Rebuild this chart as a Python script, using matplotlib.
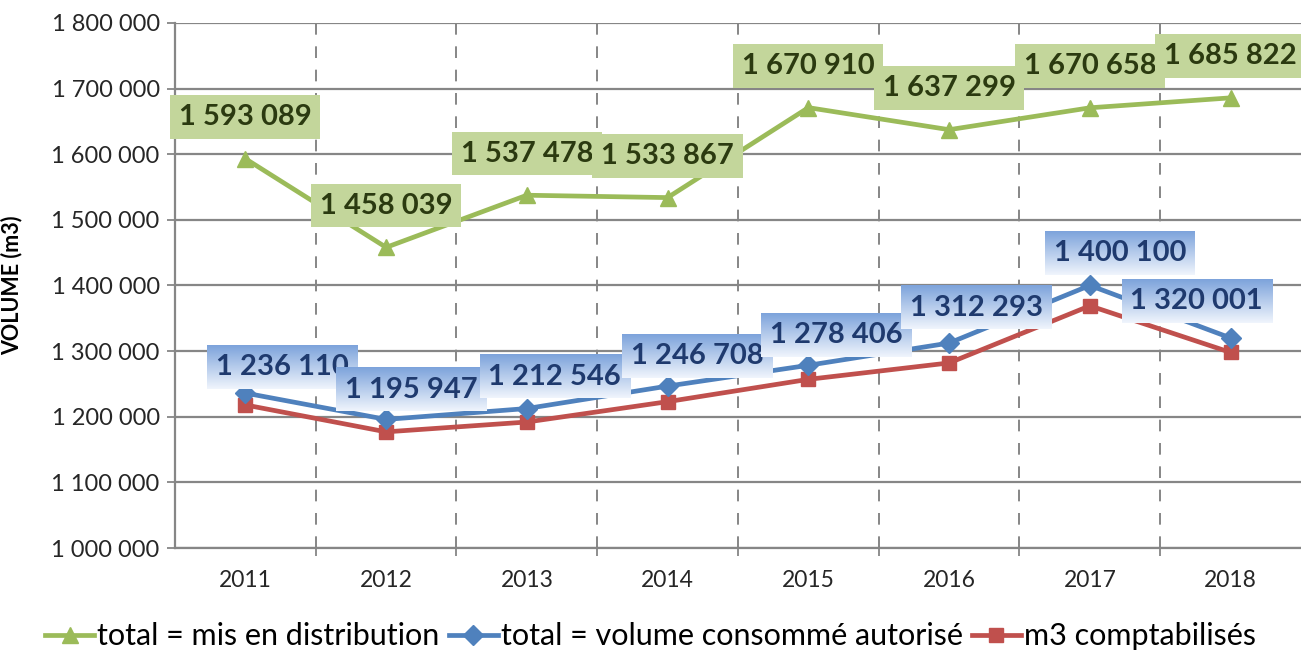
import numpy as np
import matplotlib
matplotlib.use("Agg")
import matplotlib.pyplot as plt
from matplotlib.lines import Line2D

plt.rcParams['font.family'] = ['Lato', 'DejaVu Sans']

years = ["2011", "2012", "2013", "2014", "2015", "2016", "2017", "2018"]
distribue = [1593089, 1458039, 1537478, 1533867, 1670910, 1637299, 1670658, 1685822]
consomme = [1236110, 1195947, 1212546, 1246708, 1278406, 1312293, 1400100, 1320001]
comptabilise = [1218000, 1177000, 1192000, 1223000, 1257000, 1282000, 1369000, 1298000]

# label offsets for the blue series (points), as placed in the source chart
blue_offsets = [(26.5, 18.5), (18, 21.5), (20, 23), (21.5, 21.5),
                (20, 21.5), (19.5, 25.5), (22, 23), (-24.5, 26.5)]

def fmt(v):
    return f"{v:,}".replace(",", " ")

green = "#9bbb59"
blue = "#4f81bd"
red = "#c0504d"
grid_col = "#868686"

fig = plt.figure(figsize=(13.01, 6.54), dpi=100)
ax = fig.add_axes([0.1345, 0.162, 0.8655, 0.803])

x = np.arange(len(years))
ax.plot(x, distribue, color=green, lw=3.4, marker="^", ms=12, zorder=3)
ax.plot(x, consomme, color=blue, lw=3.4, marker="D", ms=10, zorder=4)
ax.plot(x, comptabilise, color=red, lw=3.4, marker="s", ms=9.5, zorder=3)

ax.set_xlim(-0.5, len(years) - 0.5)
ax.set_ylim(1000000, 1800000)
yt = range(1000000, 1800001, 100000)
ax.set_yticks(yt)
ax.set_yticklabels([fmt(v) for v in yt], fontsize=17, color="#262626")
ax.set_xticks(x)
ax.set_xticklabels(years, fontsize=16.5, color="#262626")
ax.set_xticks(np.arange(0.5, len(years) - 0.5, 1), minor=True)
ax.tick_params(axis="x", which="major", length=0, pad=16)
ax.tick_params(axis="x", which="minor", length=6, color=grid_col, width=1.3)
ax.tick_params(axis="y", length=6, color=grid_col, width=1.3, pad=5)

ax.grid(axis="y", color=grid_col, lw=1.6, zorder=0)
ax.grid(axis="x", which="minor", color=grid_col, lw=1.4, ls=(0, (6, 6)), zorder=0)
for s in ["top", "right"]:
    ax.spines[s].set_visible(False)
for s in ["left", "bottom"]:
    ax.spines[s].set_color(grid_col)
    ax.spines[s].set_linewidth(1.6)

ax.set_ylabel("VOLUME (m3)", fontsize=15.5, fontweight="bold")
ax.yaxis.set_label_coords(-0.135, 0.5)

# data labels
for i, v in enumerate(distribue):
    ax.annotate(fmt(v), (x[i], v), xytext=(0, 30), textcoords="offset points",
                ha="center", va="center", fontsize=21, fontweight="bold", color="#2b3a10",
                bbox=dict(boxstyle="square,pad=0.3", fc="#c3d69b", ec="none"),
                zorder=6, annotation_clip=False)

blue_labels = []
for i, v in enumerate(consomme):
    t = ax.annotate(fmt(v), (x[i], v), xytext=blue_offsets[i], textcoords="offset points",
                    ha="center", va="center", fontsize=21, fontweight="bold", color="#1f3a6e",
                    bbox=dict(boxstyle="square,pad=0.3", fc="none", ec="none"),
                    zorder=8 + i * 0.01, annotation_clip=False)
    blue_labels.append(t)

# gradient boxes behind the blue labels
fig.canvas.draw()
grad = np.linspace(0, 1, 64).reshape(-1, 1)
top = np.array([0.49, 0.64, 0.86])
bot = np.array([0.94, 0.96, 0.99])
img = top + (bot - top) * grad[..., None]
inv = ax.transData.inverted()
for i, t in enumerate(blue_labels):
    bb = t.get_bbox_patch().get_window_extent()
    (x0, y0), (x1, y1) = inv.transform([[bb.x0, bb.y0], [bb.x1, bb.y1]])
    ax.imshow(img, extent=(x0, x1, y0, y1), aspect="auto", zorder=7.995 + i * 0.01,
              origin="upper", interpolation="bilinear", clip_on=False)
ax.set_xlim(-0.5, len(years) - 0.5)
ax.set_ylim(1000000, 1800000)

handles = [
    Line2D([], [], color=green, lw=3.4, marker="^", ms=12),
    Line2D([], [], color=blue, lw=3.4, marker="D", ms=10),
    Line2D([], [], color=red, lw=3.4, marker="s", ms=9.5),
]
fig.legend(handles, ["total = mis en distribution", "total = volume consommé autorisé", "m3 comptabilisés"],
           loc="center", bbox_to_anchor=(0.5, 0.027), ncol=3, frameon=False, fontsize=22,
           handlelength=1.6, handletextpad=0.1, columnspacing=0.3)

fig.savefig("out.png", dpi=100)
